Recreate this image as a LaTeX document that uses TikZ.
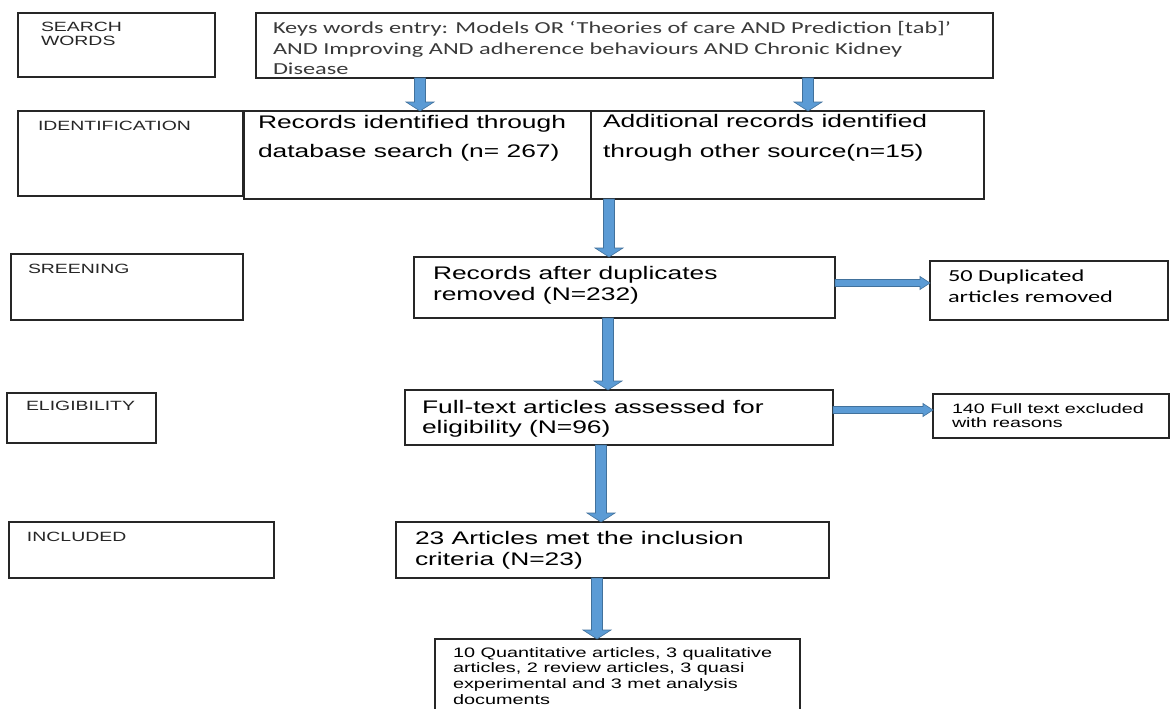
\documentclass[tikz,border=0pt]{standalone}
\usepackage{fontspec}
\setmainfont{Liberation Sans}
\newfontfamily\calib{Carlito}
\usetikzlibrary{calc}
\definecolor{arrfill}{HTML}{5B9BD5}
\definecolor{arredge}{HTML}{41719C}
\definecolor{kwtext}{HTML}{3A3A3A}
\newcommand\sx[4]{\scalebox{#1}[1]{\fontsize{#2}{#3}\selectfont\begin{tabular}[t]{@{}l@{}}#4\end{tabular}}}
\newcommand\vbarrow[2]{\filldraw[barrow] let \p1=(#1), \p2=(#2) in
  (\x1-5.5pt,\y1) -- (\x1+5.5pt,\y1) -- (\x1+5.5pt,\y2+9pt) -- (\x1+14pt,\y2+9pt)
  -- (\x1,\y2) -- (\x1-14pt,\y2+9pt) -- (\x1-5.5pt,\y2+9pt) -- cycle;}
\newcommand\hbarrow[2]{\filldraw[barrow] let \p1=(#1), \p2=(#2) in
  (\x1,\y1+3.5pt) -- (\x2-10pt,\y1+3.5pt) -- (\x2-10pt,\y1+6.5pt) -- (\x2,\y1)
  -- (\x2-10pt,\y1-6.5pt) -- (\x2-10pt,\y1-3.5pt) -- (\x1,\y1-3.5pt) -- cycle;}
\tikzset{
  box/.style={draw=black!85, line width=1.2pt, inner sep=0pt, outer sep=0pt, anchor=north west, rectangle},
  txt/.style={inner sep=0pt, outer sep=0pt, anchor=base west, text=black},
  labtxt/.style={txt, text=black!85},
  barrow/.style={fill=arrfill, draw=arredge, line width=0.6pt, line join=miter},
}
\begin{document}
\begin{tikzpicture}[x=1pt,y=-1pt]
\useasboundingbox (0,0) rectangle (1170,709);
\fill[white] (0,0) rectangle (1170,709);
\clip (0,0) rectangle (1170,709);

% boxes
\node[box, minimum width=197pt, minimum height=64pt] (lab1) at (18,13) {};
\node[box, minimum width=737pt, minimum height=65pt] (kw) at (256,13) {};
\node[box, minimum width=225pt, minimum height=85pt] (lab2) at (18,111) {};
\node[box, minimum width=347pt, minimum height=88pt] (recid) at (244,111) {};
\node[box, minimum width=393pt, minimum height=88pt] (addrec) at (591,111) {};
\node[box, minimum width=232pt, minimum height=66pt] (lab3) at (11,254) {};
\node[box, minimum width=421pt, minimum height=61pt] (dup) at (414,257) {};
\node[box, minimum width=238pt, minimum height=59pt] (dupx) at (930,261) {};
\node[box, minimum width=149pt, minimum height=50pt] (lab4) at (7,393) {};
\node[box, minimum width=428pt, minimum height=55pt] (full) at (405,390) {};
\node[box, minimum width=236pt, minimum height=44pt] (fullx) at (933,394) {};
\node[box, minimum width=265pt, minimum height=56pt] (lab5) at (9,522) {};
\node[box, minimum width=433pt, minimum height=56pt] (inc) at (396,522) {};
\node[box, minimum width=365pt, minimum height=80pt] (final) at (435,639) {};

% texts
\node[labtxt] (t-lab1) at (41,32) {\sx{1.45}{13.4}{14}{SEARCH\\WORDS}};
\node[labtxt] (t-lab2) at (38,130) {\sx{1.45}{13.4}{14}{IDENTIFICATION}};
\node[labtxt] (t-lab3) at (28,273) {\sx{1.45}{13.4}{14}{SREENING}};
\node[labtxt] (t-lab4) at (26,410) {\sx{1.45}{13.4}{14}{ELIGIBILITY}};
\node[labtxt] (t-lab5) at (27,541) {\sx{1.45}{13.4}{14}{INCLUDED}};

\node[txt, text=kwtext, font=\calib] (t-kw) at (273,34) {\sx{1.45}{16.8}{20.5}{Keys words entry: Models OR ‘Theories of care AND Prediction [tab]’\\AND Improving AND adherence behaviours AND Chronic Kidney\\Disease}};
\node[txt] (t-recid) at (258,128) {\sx{1.45}{18.2}{29}{Records identified through\\database search (n= 267)}};
\node[txt] (t-addrec) at (603,127) {\sx{1.45}{18.2}{30}{Additional records identified\\through other source(n=15)}};
\node[txt] (t-dup) at (433,279) {\sx{1.45}{18.2}{21}{Records after duplicates\\removed (N=232)}};
\node[txt] (t-full) at (422,413) {\sx{1.45}{18.2}{20.5}{Full-text articles assessed for\\eligibility (N=96)}};
\node[txt] (t-inc) at (415,544) {\sx{1.45}{18.2}{21}{23 Articles met the inclusion\\criteria (N=23)}};
\node[txt, font=\calib] (t-dupx) at (948,281) {\sx{1.45}{16.8}{21}{50 Duplicated\\articles removed}};
\node[txt] (t-fullx) at (952,413) {\sx{1.45}{13.6}{14.5}{140 Full text excluded\\with reasons}};
\node[txt] (t-final) at (453,657) {\sx{1.45}{13.7}{15.7}{10 Quantitative articles, 3 qualitative\\articles, 2 review articles, 3 quasi\\experimental and 3 met analysis\\documents}};

% arrow end points
\coordinate (a1s) at ($(kw.south -| recid.north)+(2.5,0)$);
\coordinate (a1e) at ($(recid.north)+(2.5,0)$);
\coordinate (a2s) at ($(kw.south -| addrec.north)+(20.5,0)$);
\coordinate (a2e) at ($(addrec.north)+(20.5,0)$);
\coordinate (a3s) at ($(addrec.south -| dup.north)+(-15.5,0)$);
\coordinate (a3e) at ($(dup.north)+(-15.5,0)$);
\coordinate (a4s) at ($(dup.south)+(-16.5,0)$);
\coordinate (a4e) at ($(full.north)+(-11,0)$);
\coordinate (a5s) at ($(full.south)+(-18,0)$);
\coordinate (a5e) at ($(inc.north)+(-11.5,0)$);
\coordinate (a6s) at ($(inc.south)+(-15.5,0)$);
\coordinate (a6e) at ($(final.north)+(-20.5,0)$);
\coordinate (h1s) at ($(dup.east)+(0,-4.5)$);
\coordinate (h1e) at (h1s -| dupx.west);
\coordinate (h2s) at ($(full.east)+(0,-7.5)$);
\coordinate (h2e) at (h2s -| fullx.west);

\vbarrow{a1s}{a1e}
\vbarrow{a2s}{a2e}
\vbarrow{a3s}{a3e}
\vbarrow{a4s}{a4e}
\vbarrow{a5s}{a5e}
\vbarrow{a6s}{a6e}
\hbarrow{h1s}{h1e}
\hbarrow{h2s}{h2e}
\end{tikzpicture}
\end{document}
